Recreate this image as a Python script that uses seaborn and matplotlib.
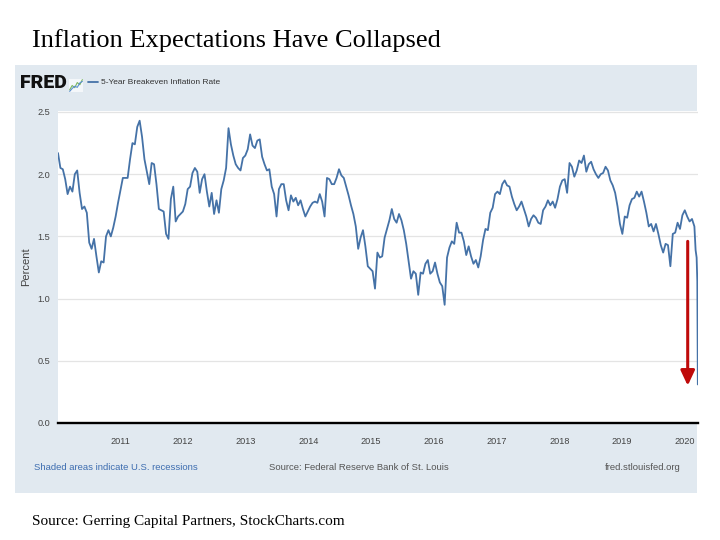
import numpy as np
import pandas as pd
import matplotlib
matplotlib.use("Agg")
import matplotlib.pyplot as plt
import seaborn as sns
from matplotlib.patches import Rectangle

# ---- data ----
# 5-Year Breakeven Inflation Rate, roughly every 14 days from 2010-01-01
values_biweekly = [
    2.17, 2.05, 2.04, 1.96, 1.84, 1.90, 1.86, 2.00, 2.03, 1.85,
    1.72, 1.74, 1.69, 1.45, 1.40, 1.48, 1.34, 1.21, 1.30, 1.29,
    1.50, 1.55, 1.50, 1.57, 1.66, 1.77, 1.87, 1.97, 1.97, 1.97,
    2.12, 2.25, 2.24, 2.38, 2.43, 2.30, 2.12, 2.02, 1.92, 2.09,
    2.08, 1.92, 1.72, 1.71, 1.70, 1.52, 1.48, 1.80, 1.90, 1.62,
    1.66, 1.68, 1.70,
    1.76, 1.88, 1.90, 2.01, 2.05, 2.02, 1.85, 1.96, 2.00, 1.86,
    1.74, 1.85, 1.68, 1.79, 1.69, 1.88, 1.95, 2.05, 2.37, 2.24,
    2.15, 2.08, 2.05, 2.03, 2.13, 2.15, 2.20, 2.32, 2.23, 2.21,
    2.27, 2.28, 2.14, 2.08, 2.03, 2.04, 1.90, 1.84, 1.66, 1.88,
    1.92, 1.92, 1.79, 1.71, 1.83, 1.78, 1.81, 1.75, 1.79, 1.72,
    1.66, 1.70,
    1.74, 1.77, 1.78, 1.77, 1.84, 1.78, 1.66, 1.97, 1.96, 1.92,
    1.92, 1.97, 2.04, 1.99, 1.97, 1.90, 1.83, 1.75, 1.68, 1.58,
    1.40, 1.49, 1.55, 1.42, 1.26, 1.24, 1.22, 1.08, 1.37, 1.33,
    1.34, 1.49, 1.56, 1.63, 1.72, 1.64, 1.61, 1.68, 1.63, 1.55,
    1.44, 1.30, 1.16, 1.22, 1.20, 1.03, 1.21, 1.20, 1.28, 1.31,
    1.20,
    1.22, 1.29, 1.20, 1.13, 1.10, 0.95, 1.33, 1.41, 1.46, 1.44,
    1.61, 1.53, 1.53, 1.46, 1.35, 1.42, 1.34, 1.28, 1.31, 1.25,
    1.34, 1.47, 1.56, 1.55, 1.69, 1.73, 1.84, 1.86, 1.84, 1.92,
    1.95, 1.91, 1.90, 1.82, 1.76, 1.71, 1.74, 1.78, 1.72, 1.66,
    1.58, 1.64, 1.67, 1.65, 1.61, 1.60, 1.71, 1.74, 1.79, 1.75,
    1.78, 1.73,
    1.80, 1.90, 1.95, 1.96, 1.85, 2.09, 2.06, 1.98, 2.03, 2.11,
    2.09, 2.15, 2.02, 2.08, 2.10, 2.04, 2.00, 1.97, 2.00, 2.01,
    2.06, 2.03, 1.95, 1.91, 1.85, 1.74, 1.60, 1.52, 1.66, 1.65,
    1.75, 1.80, 1.81, 1.86, 1.82, 1.86, 1.78, 1.69, 1.58, 1.60,
    1.54, 1.60, 1.52, 1.43, 1.37, 1.44, 1.43, 1.26, 1.52, 1.53,
    1.61, 1.56, 1.67, 1.71, 1.66, 1.62, 1.64, 1.58,
]
# March 2020 collapse
tail_dates = ["2020-03-06", "2020-03-12", "2020-03-16", "2020-03-18", "2020-03-19"]
tail_values = [1.39, 1.33, 1.14, 0.66, 0.31]

series_name = "5-Year Breakeven Inflation Rate"
year_labels = ["2011", "2012", "2013", "2014", "2015", "2016", "2017", "2018", "2019", "2020"]
y_ticks = [0.0, 0.5, 1.0, 1.5, 2.0, 2.5]
arrow_date = "2020-01-20"
arrow_from = 1.46
arrow_to = 0.30
icon_green = [1.0, 2.2, 1.6, 3.0, 2.4, 3.8]
icon_blue = [0.6, 1.4, 2.0, 1.7, 2.9, 3.3]

# ---- build frame ----
dates = list(pd.date_range("2010-01-01", periods=len(values_biweekly), freq="14D")) + list(pd.to_datetime(tail_dates))
df = pd.DataFrame({"date": dates, "value": values_biweekly + tail_values})

sns.set_theme(style="white")
plt.rcParams["font.family"] = ["Liberation Sans", "DejaVu Sans"]

W, H = 720, 540
fig = plt.figure(figsize=(7.2, 5.4), dpi=100)
fig.patch.set_facecolor("white")

# FRED panel background
fig.add_artist(Rectangle((15 / W, 1 - 493 / H), (697 - 15) / W, (493 - 65) / H,
                         transform=fig.transFigure, facecolor="#e1e9f0",
                         edgecolor="none", zorder=-5))

ax = fig.add_axes([58 / W, 1 - 423 / H, 640 / W, (423 - 110.5) / H])
ax.set_facecolor("white")
sns.lineplot(data=df, x="date", y="value", ax=ax, color="#4572a7",
             linewidth=1.3, label=series_name)

ax.set_xlim(pd.Timestamp("2010-01-01"), pd.Timestamp("2020-03-20"))
ax.set_ylim(0, 2.512)
ax.set_xticks([pd.Timestamp(f"{y}-01-01") for y in year_labels])
ax.set_xticklabels(year_labels)
ax.set_yticks(y_ticks)
ax.set_yticklabels([f"{v:.1f}" for v in y_ticks])
ax.tick_params(axis="x", length=7, width=1, color="#cdd6df", pad=3,
               labelsize=6.6, labelcolor="#444444")
ax.tick_params(axis="y", length=0, pad=5.5, labelsize=6.6, labelcolor="#444444")
ax.set_xlabel("")
ax.set_ylabel("Percent", fontsize=8, color="#444444")
ax.yaxis.set_label_coords(-0.042, 0.5)
ax.yaxis.grid(True, color="#e4e4e4", linewidth=0.9)
ax.xaxis.grid(False)
for s in ["top", "right", "left"]:
    ax.spines[s].set_visible(False)
ax.spines["bottom"].set_color("black")
ax.spines["bottom"].set_linewidth(1.7)
ax.spines["bottom"].set_zorder(5)

# legend at the top of the FRED panel
ax.legend(loc="center left", bbox_to_anchor=(88 / W, 1 - 82.5 / H),
          bbox_transform=fig.transFigure, frameon=False, fontsize=6.0,
          handlelength=1.2, handletextpad=0.4, borderpad=0, borderaxespad=0,
          labelcolor="#333333")

# red arrow
ax.annotate("", xy=(pd.Timestamp(arrow_date), arrow_to),
            xytext=(pd.Timestamp(arrow_date), arrow_from),
            arrowprops=dict(arrowstyle="-|>,head_width=0.35,head_length=0.75",
                            color="#bf0a0a", lw=2.2, shrinkA=0, shrinkB=0),
            zorder=6)

# FRED logo
fig.text(20 / W, 1 - 83.5 / H, "FRED", fontsize=14, fontweight="black",
         color="#111111", va="center", ha="left",
         family=["Roboto", "Liberation Sans", "DejaVu Sans"])
icon = fig.add_axes([69 / W, 1 - 92 / H, 14 / W, 13 / H])
icon.plot(icon_green, color="#7bb661", lw=0.8)
icon.plot(icon_blue, color="#5b8fd1", lw=0.8)
icon.set_facecolor("#f4f7fa")
icon.set_xticks([]); icon.set_yticks([])
for s in icon.spines.values():
    s.set_visible(False)

# titles and footers
fig.text(32 / W, 1 - 41 / H, "Inflation Expectations Have Collapsed", fontsize=19,
         family=["Liberation Serif", "DejaVu Serif"], va="center", ha="left", color="black")
fig.text(32 / W, 1 - 521 / H, "Source: Gerring Capital Partners, StockCharts.com", fontsize=11,
         family=["Liberation Serif", "DejaVu Serif"], va="center", ha="left", color="black")
fig.text(34 / W, 1 - 468 / H, "Shaded areas indicate U.S. recessions", fontsize=6.8,
         color="#3d6db0", va="center", ha="left")
fig.text(359 / W, 1 - 468 / H, "Source: Federal Reserve Bank of St. Louis", fontsize=6.8,
         color="#555555", va="center", ha="center")
fig.text(681 / W, 1 - 468 / H, "fred.stlouisfed.org", fontsize=6.8,
         color="#555555", va="center", ha="right")

fig.savefig("out.png", dpi=100)
